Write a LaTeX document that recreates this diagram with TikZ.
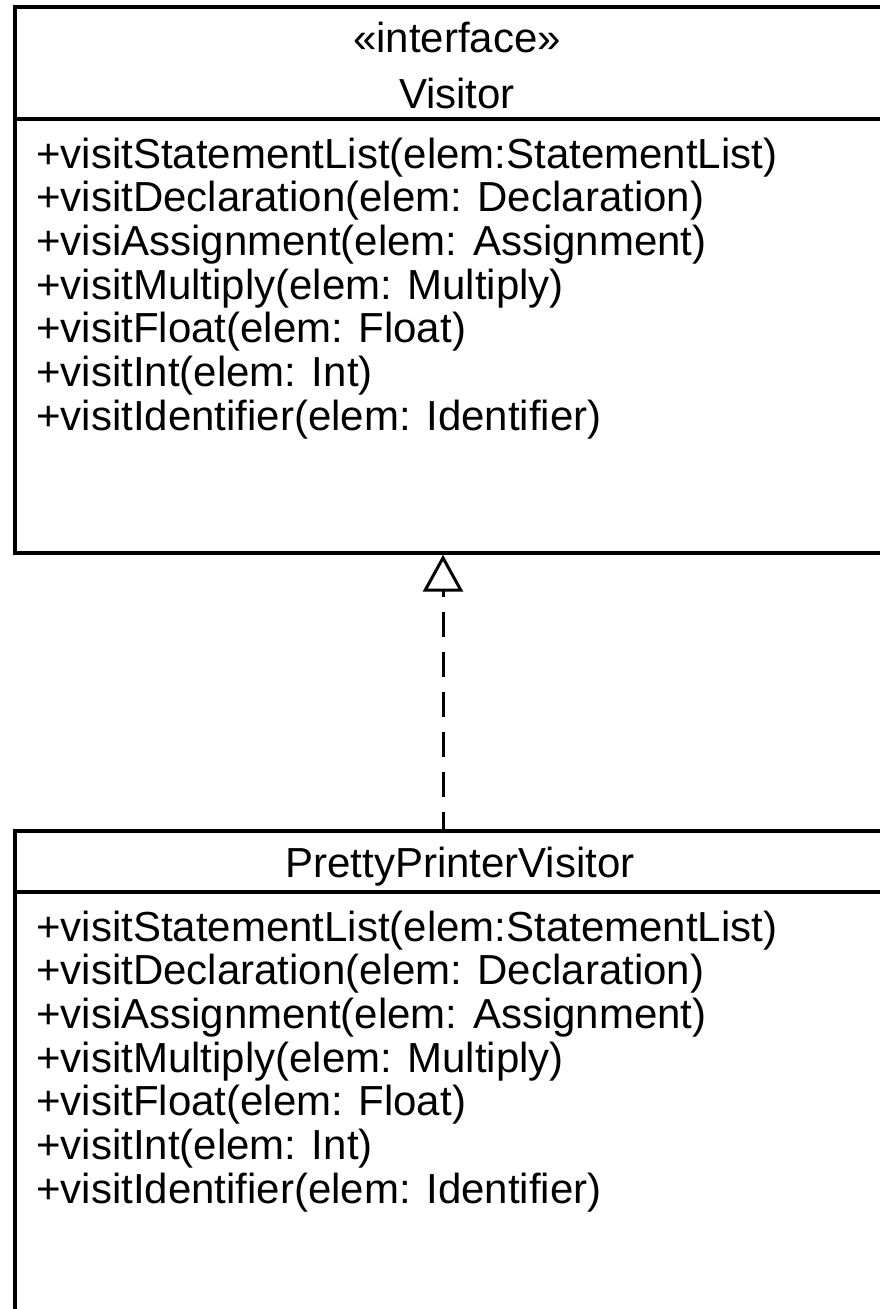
\documentclass[tikz,border=0pt]{standalone}
\usepackage{fontspec}
\setmainfont{Liberation Sans}
\usetikzlibrary{arrows.meta}
\begin{document}
\begin{tikzpicture}[x=1pt,y=-1pt,
  classbox/.style={draw, line width=3.4pt, rectangle, inner sep=0pt,
    minimum width=884pt, minimum height=546pt},
  divider/.style={line width=3.4pt},
  member/.style={anchor=base west, inner sep=0pt, font=\fontsize{42}{44}\selectfont},
  heading/.style={anchor=base, inner sep=0pt, font=\fontsize{42}{44}\selectfont},
  realize/.style={line width=3pt, dash pattern=on 25pt off 15pt, dash phase=8pt,
    -{Triangle[open, length=37pt, width=40pt, line width=3pt]}}]
\useasboundingbox (0,0) rectangle (880,1309);
\clip (0,0) rectangle (880,1309);

% interface Visitor
\node[classbox] (visitor) at (457,280) {};
\draw[divider] (15,119) -- (899,119);
\node[heading] (vstereo) at (457,52) {«interface»};
\node[heading] (vname) at (457,108) {Visitor};
\foreach \txt [count=\i from 0] in {
  {+visitStatementList(elem:StatementList)},
  {+visitDeclaration(elem: Declaration)},
  {+visiAssignment(elem: Assignment)},
  {+visitMultiply(elem: Multiply)},
  {+visitFloat(elem: Float)},
  {+visitInt(elem: Int)},
  {+visitIdentifier(elem: Identifier)}}
  \node[member] (vop\i) at (36,168+43.7*\i) {\txt};

% class PrettyPrinterVisitor
\node[classbox] (printer) at (457,1104) {};
\draw[divider] (15,892) -- (899,892);
\node[heading] (pname) at (460,877) {PrettyPrinterVisitor};
\foreach \txt [count=\i from 0] in {
  {+visitStatementList(elem:StatementList)},
  {+visitDeclaration(elem: Declaration)},
  {+visiAssignment(elem: Assignment)},
  {+visitMultiply(elem: Multiply)},
  {+visitFloat(elem: Float)},
  {+visitInt(elem: Int)},
  {+visitIdentifier(elem: Identifier)}}
  \node[member] (pop\i) at (36,941+43.7*\i) {\txt};

% realization
\draw[realize] ([xshift=-14pt]printer.north) -- ([xshift=-14pt]visitor.south);
\end{tikzpicture}
\end{document}
